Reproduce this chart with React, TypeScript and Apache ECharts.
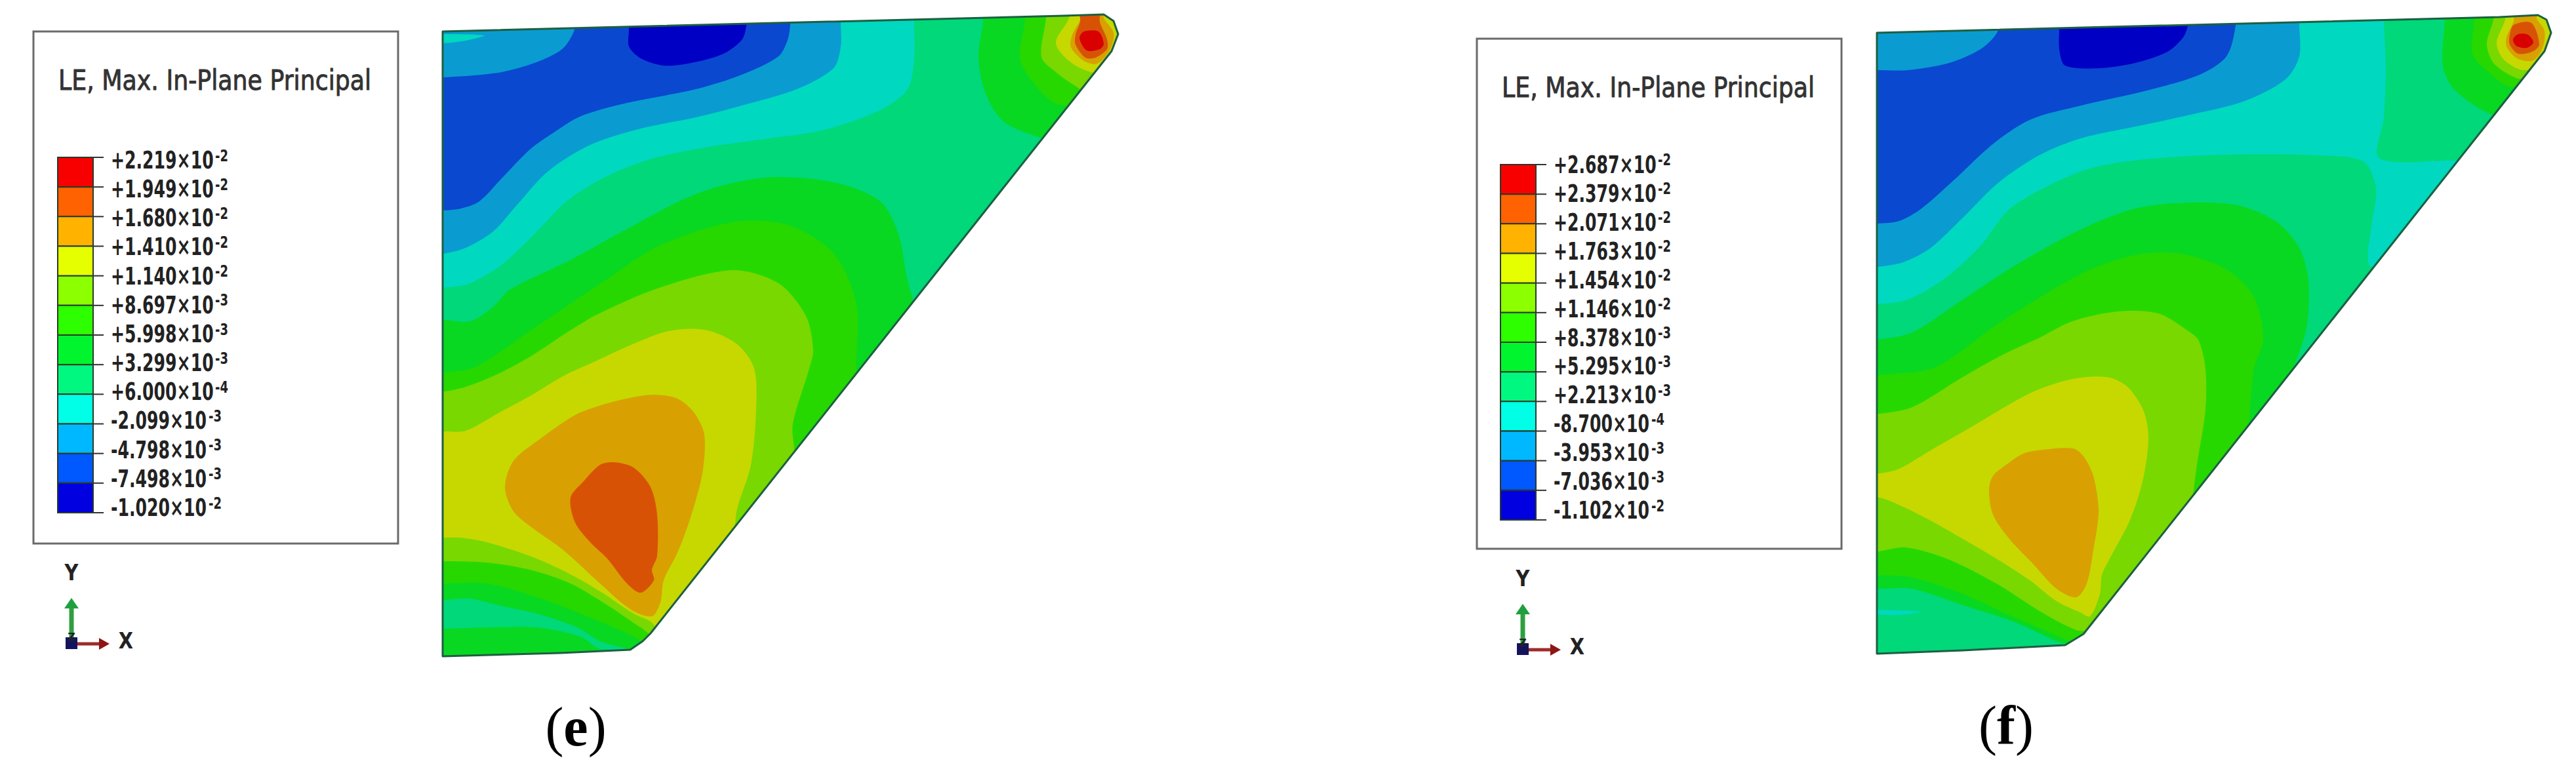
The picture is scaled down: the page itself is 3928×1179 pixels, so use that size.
import React, { useEffect, useRef } from "react";
import * as echarts from "echarts";

// ---------- colours of the contour bands (screen) and of the legend ----------
const DARKBLUE = "#0000c4";
const BLUE = "#0a48d0";
const LIGHTBLUE = "#0a9cd0";
const TEAL = "#00d8c0";
const GREENTEAL = "#00d87a";
const GREEN1 = "#08d822";
const GREEN2 = "#26d800";
const YELLOWGREEN = "#78d800";
const YELLOW = "#c6d800";
const ORANGE = "#d8a000";
const DARKORANGE = "#d85206";
const RED = "#d80000";
const legendColors = ["#f80000", "#ff6200", "#ffb200", "#e6ff00", "#8cff00", "#2eff00", "#00f52e", "#00f880", "#00ffe6", "#00b8ff", "#0058ff", "#0000e0"];

// ---------- legend levels ----------
const eLevels = ["+2.219", "+1.949", "+1.680", "+1.410", "+1.140", "+8.697", "+5.998", "+3.299", "+6.000", "-2.099", "-4.798", "-7.498", "-1.020"];
const eExponents = ["-2", "-2", "-2", "-2", "-2", "-3", "-3", "-3", "-4", "-3", "-3", "-3", "-2"];
const fLevels = ["+2.687", "+2.379", "+2.071", "+1.763", "+1.454", "+1.146", "+8.378", "+5.295", "+2.213", "-8.700", "-3.953", "-7.036", "-1.102"];
const fExponents = ["-2", "-2", "-2", "-2", "-2", "-2", "-3", "-3", "-3", "-4", "-3", "-3", "-2"];

// ---------- panel (e): contour boundaries, model units ----------
const eOutline = [[35, 48], [982, 24], [1043, 22], [1058, 32], [1065, 52], [1055, 78], [352, 966], [340, 978], [321, 991], [214, 996], [35, 1001]];
const eTeal = [[0, 439], [35, 439], [77, 432], [126, 403], [175, 357], [224, 307], [281, 271], [351, 243], [435, 225], [533, 211], [617, 198], [702, 168], [744, 136], [754, 89], [754, 36], [754, 0], [0, 0]];
const eLightBlue = [[0, 387], [35, 387], [70, 378], [112, 353], [147, 314], [196, 261], [260, 221], [337, 196], [421, 179], [491, 161], [575, 136], [631, 104], [642, 71], [642, 36], [642, 0], [0, 0]];
const eBlue = [[0, 321], [35, 321], [63, 318], [91, 307], [126, 271], [168, 228], [203, 203], [246, 177], [316, 157], [421, 136], [491, 114], [547, 86], [561, 61], [565, 37], [565, 0], [0, 0]];
const eDarkBlue = [[319, 20], [319, 45], [319, 71], [337, 89], [372, 100], [414, 96], [463, 82], [491, 61], [498, 40], [498, 20]];
const ePatchBlue = [[0, 30], [235, 30], [235, 48], [217, 75], [175, 96], [119, 111], [35, 118], [0, 118]];
const ePatchTeal = [[0, 54], [98, 54], [70, 62], [35, 66], [0, 66]];
const eGreen1 = [[0, 488], [37, 488], [77, 490], [113, 467], [137, 442], [231, 396], [302, 357], [421, 296], [526, 271], [631, 278], [702, 307], [730, 357], [744, 428], [758, 470], [790, 520], [600, 800], [400, 1020], [0, 1020]];
const ePocket = [[0, 915], [38, 915], [76, 913], [128, 925], [179, 936], [240, 957], [275, 978], [316, 990], [275, 990], [245, 971], [179, 957], [102, 957], [38, 959], [0, 959]];
const eGreen2 = [[0, 570], [38, 568], [84, 560], [175, 500], [281, 429], [365, 375], [477, 339], [561, 343], [631, 386], [666, 464], [666, 560], [670, 600], [680, 640], [500, 860], [380, 1010], [332, 974], [255, 940], [179, 911], [102, 890], [38, 890], [0, 890]];
const eYellowGreen = [[0, 597], [37, 597], [70, 590], [120, 570], [170, 543], [220, 510], [270, 480], [365, 439], [477, 412], [547, 432], [589, 482], [600, 535], [594, 562], [569, 646], [571, 684], [575, 720], [590, 760], [480, 880], [370, 975], [337, 957], [286, 923], [230, 890], [168, 869], [102, 858], [38, 856], [0, 856]];
const eYellow = [[0, 658], [37, 658], [70, 657], [120, 630], [170, 603], [220, 573], [270, 550], [320, 527], [379, 505], [435, 503], [484, 525], [510, 562], [513, 625], [505, 709], [485, 772], [482, 789], [480, 820], [490, 850], [430, 920], [370, 965], [352, 948], [326, 936], [275, 902], [224, 873], [168, 848], [102, 827], [61, 820], [38, 820], [0, 820]];
const eOrange = [[320, 607], [357, 602], [393, 608], [418, 629], [434, 663], [431, 722], [413, 789], [393, 843], [372, 885], [367, 919], [354, 940], [321, 929], [275, 890], [219, 839], [173, 806], [143, 780], [130, 743], [143, 703], [187, 667], [237, 633], [280, 617]];
const eDarkOrange = [[296, 705], [326, 713], [352, 743], [362, 785], [362, 848], [354, 869], [357, 885], [337, 904], [316, 890], [286, 852], [260, 827], [237, 797], [230, 759], [250, 734], [275, 709]];
const eHot1 = [[859, 10], [859, 32], [852, 89], [863, 143], [891, 186], [950, 211], [980, 215], [1100, 80], [1100, 10]];
const eHot2 = [[923, 10], [923, 32], [915, 89], [935, 125], [965, 155], [990, 160], [1100, 80], [1100, 10]];
const eHot3 = [[955, 10], [955, 28], [948, 87], [970, 110], [998, 130], [1020, 140], [1100, 80], [1100, 10]];
const eHot4 = [[990, 10], [990, 28], [970, 65], [990, 93], [1023, 110], [1050, 110], [1100, 60], [1100, 10]];
const eHot5 = [[1008, 10], [1008, 28], [995, 53], [993, 72], [1013, 93], [1033, 97], [1053, 75], [1058, 50], [1043, 27], [1043, 10]];
const eHot6 = [[1007, 10], [1007, 33], [1000, 53], [1000, 68], [1015, 88], [1030, 88], [1048, 75], [1048, 60], [1037, 33], [1037, 10]];
const eHotRed = [[1006, 58], [1013, 48], [1035, 48], [1043, 67], [1037, 75], [1017, 77]];

// ---------- panel (f): contour boundaries, model units ----------
const fOutline = [[22, 50], [972, 26], [1030, 23], [1043, 30], [1050, 50], [1040, 78], [337, 967], [309, 984], [153, 992], [22, 997]];
const fTeal = [[0, 464], [22, 464], [69, 457], [125, 425], [180, 375], [222, 321], [278, 286], [347, 257], [430, 243], [555, 236], [694, 237], [763, 246], [783, 286], [777, 339], [772, 403], [800, 405], [950, 245], [899, 245], [788, 241], [795, 179], [798, 107], [795, 29], [795, 0], [0, 0]];
const fLightBlue = [[0, 407], [22, 407], [62, 400], [104, 378], [153, 332], [208, 278], [271, 236], [333, 211], [416, 193], [500, 175], [583, 154], [645, 121], [666, 86], [666, 36], [666, 0], [0, 0]];
const fBlue = [[0, 341], [22, 341], [56, 337], [90, 318], [139, 275], [201, 218], [257, 182], [333, 161], [430, 139], [514, 114], [555, 86], [569, 39], [569, 0], [0, 0]];
const fDarkBlue = [[300, 20], [300, 46], [300, 75], [309, 100], [361, 104], [416, 96], [465, 79], [489, 57], [496, 39], [496, 20]];
const fPatchBlue = [[0, 30], [205, 30], [205, 50], [180, 75], [132, 96], [69, 107], [22, 107], [0, 107]];
const fGreen1 = [[0, 518], [22, 518], [76, 507], [153, 457], [236, 403], [333, 350], [416, 318], [500, 309], [576, 314], [632, 339], [666, 378], [680, 428], [677, 500], [659, 557], [650, 590], [660, 620], [500, 820], [360, 1000], [0, 1000]];
const fPocket = [[0, 898], [23, 898], [76, 898], [153, 923], [230, 948], [296, 978], [311, 984], [320, 1010], [0, 1010]];
const fStreak = [[0, 930], [23, 930], [90, 933], [50, 938], [23, 937], [0, 937]];
const fGreen2 = [[0, 572], [25, 572], [111, 560], [208, 493], [333, 418], [416, 389], [486, 387], [555, 411], [597, 453], [611, 518], [597, 562], [589, 646], [585, 680], [600, 710], [470, 860], [350, 985], [316, 978], [286, 965], [219, 936], [153, 906], [76, 881], [23, 877], [0, 877]];
const fYellowGreen = [[0, 631], [26, 631], [76, 621], [153, 575], [214, 541], [270, 515], [320, 490], [389, 475], [451, 478], [500, 507], [513, 520], [523, 562], [523, 625], [510, 709], [505, 747], [500, 780], [510, 810], [430, 880], [345, 960], [326, 961], [270, 932], [204, 890], [128, 852], [66, 835], [0, 837]];
const fYellow = [[0, 722], [26, 722], [56, 715], [102, 688], [168, 650], [255, 600], [316, 579], [372, 575], [403, 589], [428, 625], [436, 667], [428, 730], [408, 793], [377, 852], [365, 877], [362, 906], [347, 940], [332, 934], [296, 917], [255, 885], [204, 852], [153, 822], [102, 793], [51, 768], [26, 759], [0, 759]];
const fOrange = [[245, 692], [275, 686], [321, 684], [337, 696], [352, 726], [360, 780], [352, 839], [342, 890], [326, 911], [296, 898], [260, 860], [224, 822], [199, 785], [193, 747], [199, 726], [219, 709]];
const fHot1 = [[888, 10], [888, 32], [885, 100], [902, 136], [951, 171], [975, 175], [1080, 80], [1080, 10]];
const fHot2 = [[933, 10], [933, 30], [930, 82], [951, 107], [985, 132], [1000, 130], [1080, 80], [1080, 10]];
const fHot3 = [[962, 10], [962, 30], [952, 67], [963, 97], [1000, 120], [1020, 115], [1080, 80], [1080, 10]];
const fHot4 = [[980, 10], [980, 30], [967, 65], [977, 90], [1007, 107], [1040, 95], [1080, 60], [1080, 10]];
const fHot5 = [[993, 10], [993, 32], [982, 57], [983, 73], [1000, 90], [1023, 92], [1037, 73], [1040, 47], [1028, 28], [1028, 10]];
const fHot6 = [[993, 38], [1020, 35], [1032, 67], [1023, 78], [1000, 82], [987, 68], [987, 53]];
const fHotRed = [[992, 60], [1000, 52], [1015, 53], [1023, 65], [1013, 73], [997, 70]];

const eLayers: [number[][], string][] = [
  [eTeal, TEAL], [eLightBlue, LIGHTBLUE], [eBlue, BLUE], [ePatchBlue, LIGHTBLUE], [ePatchTeal, TEAL], [eDarkBlue, DARKBLUE],
  [eGreen1, GREEN1], [ePocket, GREENTEAL], [eGreen2, GREEN2], [eYellowGreen, YELLOWGREEN], [eYellow, YELLOW], [eOrange, ORANGE], [eDarkOrange, DARKORANGE],
  [eHot1, GREEN1], [eHot2, GREEN2], [eHot3, YELLOWGREEN], [eHot4, YELLOW], [eHot5, ORANGE], [eHot6, DARKORANGE], [eHotRed, RED],
];
const fLayers: [number[][], string][] = [
  [fTeal, TEAL], [fLightBlue, LIGHTBLUE], [fBlue, BLUE], [fPatchBlue, LIGHTBLUE], [fDarkBlue, DARKBLUE],
  [fGreen1, GREEN1], [fPocket, GREENTEAL], [fStreak, TEAL], [fGreen2, GREEN2], [fYellowGreen, YELLOWGREEN], [fYellow, YELLOW], [fOrange, ORANGE],
  [fHot1, GREEN1], [fHot2, GREEN2], [fHot3, YELLOWGREEN], [fHot4, YELLOW], [fHot5, ORANGE], [fHot6, DARKORANGE], [fHotRed, RED],
];

const FONT = "'DejaVu Sans'";

function contourSeries(layers: [number[][], string][], outline: number[][], idx: number) {
  return {
    type: "custom",
    xAxisIndex: idx,
    yAxisIndex: idx,
    silent: true,
    data: [[-1, 0], ...layers.map((_, i) => [i, 0]), [layers.length, 0]],
    dimensions: ["layer", "z"],
    encode: { x: 1, y: 1 },
    renderItem: (_p: any, api: any) => {
      const i = api.value(0);
      const outlinePts = outline.map((q) => api.coord(q));
      if (i < 0) return { type: "polygon", shape: { points: outlinePts }, style: { fill: GREENTEAL } };
      if (i >= layers.length) return { type: "polygon", shape: { points: outlinePts }, style: { fill: "none", stroke: "#1d5f42", lineWidth: 3, lineJoin: "round" } };
      const [pts, color] = layers[i];
      return {
        type: "polygon",
        shape: { points: pts.map((q) => api.coord(q)), smooth: 0.3 },
        style: { fill: color },
        clipPath: { type: "polygon", shape: { points: outlinePts } },
      };
    },
  };
}

function legendSeries(levels: string[], exps: string[], idx: number, textStart: number, textStep: number) {
  return {
    type: "custom",
    xAxisIndex: idx,
    yAxisIndex: idx,
    silent: true,
    clip: false,
    data: levels.map((l, i) => [0, i]),
    renderItem: (_p: any, api: any) => {
      const i = api.value(1);
      const [x0, y0] = api.coord([0, i]);
      const [x1, y1] = api.coord([1, i + 1]);
      const children: any[] = [];
      if (i < levels.length - 1) {
        children.push({ type: "rect", shape: { x: x0, y: y0, width: x1 - x0, height: y1 - y0 }, style: { fill: legendColors[i], stroke: "#2a3a2a", lineWidth: 2 } });
      }
      children.push({ type: "line", shape: { x1, y1: y0, x2: x1 + 16, y2: y0 }, style: { stroke: "#333", lineWidth: 2 } });
      const ty = api.coord([0, textStart + i * textStep])[1];
      const tx = x1 + 27;
      const label = levels[i];
      children.push({ type: "text", x: tx, y: ty, scaleX: 0.68, style: { text: label + "×10", fontFamily: FONT, fontWeight: "bold", fontSize: 37, fill: "#222", align: "left", verticalAlign: "middle" } });
      children.push({ type: "text", x: tx + (label[0] === "+" ? 159 : 149), y: ty - 7, scaleX: 0.75, style: { text: exps[i], fontFamily: FONT, fontWeight: "bold", fontSize: 24, fill: "#222", align: "left", verticalAlign: "middle" } });
      return { type: "group", children };
    },
  };
}

function legendBoxGraphics(x: number, y: number, w: number, h: number) {
  return [
    { type: "rect", z: 1, shape: { x, y, width: w, height: h }, style: { fill: "#fff", stroke: "#6a6a6a", lineWidth: 3 } },
    { type: "text", z: 5, x: x + 38, y: y + 75, scaleX: 0.865, style: { text: "LE, Max. In-Plane Principal", fontFamily: FONT, fontSize: 42, fill: "#333", stroke: "#333", lineWidth: 1, verticalAlign: "middle", align: "left" } },
  ];
}

function triadGraphics(x: number, y: number) {
  // x, y: the origin of the triad
  return [
    { type: "line", z: 5, shape: { x1: x, y1: y, x2: x, y2: y - 52 }, style: { stroke: "#2f9f3f", lineWidth: 7 } },
    { type: "polygon", z: 5, shape: { points: [[x - 11, y - 50], [x, y - 66], [x + 11, y - 50]] }, style: { fill: "#1f9f3f" } },
    { type: "line", z: 5, shape: { x1: x + 8, y1: y + 4, x2: x + 46, y2: y + 4 }, style: { stroke: "#a02a2a", lineWidth: 5 } },
    { type: "polygon", z: 5, shape: { points: [[x + 42, y - 5], [x + 58, y + 4], [x + 42, y + 13]] }, style: { fill: "#8f1515" } },
    { type: "rect", z: 6, shape: { x: x - 9, y: y - 6, width: 18, height: 18 }, style: { fill: "#14145e" } },
    { type: "text", z: 7, x, y: y - 7, style: { text: "Z", fontFamily: FONT, fontWeight: "bold", fontSize: 16, fill: "#222", align: "center", verticalAlign: "middle" } },
    { type: "text", z: 5, x, y: y - 105, scaleX: 0.85, style: { text: "Y", fontFamily: FONT, fontWeight: "bold", fontSize: 34, fill: "#222", align: "center", verticalAlign: "middle" } },
    { type: "text", z: 5, x: x + 83, y: y - 1, scaleX: 0.85, style: { text: "X", fontFamily: FONT, fontWeight: "bold", fontSize: 34, fill: "#222", align: "center", verticalAlign: "middle" } },
  ];
}

function captionGraphic(x: number, y: number, letter: string) {
  return {
    type: "text",
    z: 5,
    x,
    y,
    style: {
      text: `{p|(}{b|${letter}}{p|)}`,
      align: "center",
      verticalAlign: "middle",
      rich: {
        p: { fontFamily: "'Liberation Serif'", fontSize: 84, fill: "#000" },
        b: { fontFamily: "'Liberation Serif'", fontSize: 84, fontWeight: "bold", fill: "#000" },
      },
    },
  };
}

const hiddenAxis = (gridIndex: number, min: number, max: number, inverse = false) => ({ type: "value", show: false, gridIndex, min, max, inverse });

export default function App() {
  const ref = useRef<HTMLDivElement>(null);
  useEffect(() => {
    const chart = echarts.init(ref.current!, undefined, { renderer: "svg" });
    chart.setOption({
      animation: false,
      backgroundColor: "#ffffff",
      grid: [
        { left: 640, top: 0, width: 1100, height: 1040 },
        { left: 2840, top: 0, width: 1088, height: 1040 },
        { left: 88, top: 240, width: 54, height: 542 },
        { left: 2288, top: 251, width: 54, height: 542 },
      ],
      xAxis: [hiddenAxis(0, 0, 1100), hiddenAxis(1, 0, 1088), hiddenAxis(2, 0, 1), hiddenAxis(3, 0, 1)],
      yAxis: [hiddenAxis(0, 0, 1040, true), hiddenAxis(1, 0, 1040, true), hiddenAxis(2, 0, 12, true), hiddenAxis(3, 0, 12, true)],
      graphic: [
        ...legendBoxGraphics(51, 48, 556, 781),
        ...legendBoxGraphics(2252, 59, 556, 778),
        ...triadGraphics(109, 978),
        ...triadGraphics(2322, 987),
        captionGraphic(878, 1108, "e"),
        captionGraphic(3059, 1106, "f"),
      ],
      series: [
        contourSeries(eLayers, eOutline, 0),
        contourSeries(fLayers, fOutline, 1),
        { ...legendSeries(eLevels, eExponents, 2, 0.09, 0.978), z: 10 },
        { ...legendSeries(fLevels, fExponents, 3, 0, 0.973), z: 10 },
      ],
    });
    return () => chart.dispose();
  }, []);
  return <div ref={ref} style={{ position: "absolute", left: 0, top: 0, width: 3928, height: 1179 }} />;
}
